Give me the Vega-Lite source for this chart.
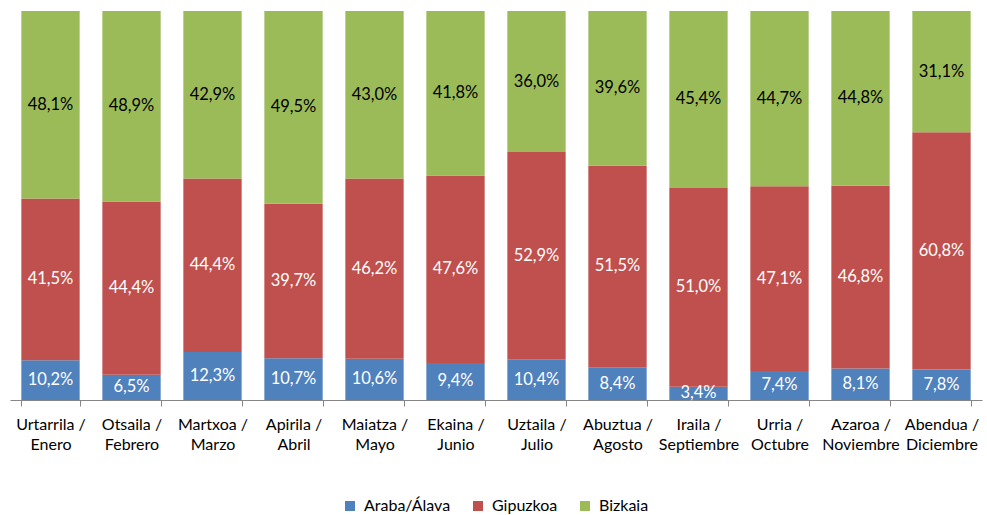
{
  "$schema": "https://vega.github.io/schema/vega-lite/v6.json",
  "width": 972,
  "height": 389,
  "autosize": {"type": "none"},
  "padding": {"left": 10, "top": 11, "right": 5, "bottom": 115},
  "background": "white",
  "config": {"view": {"stroke": null}},
  "data": {
    "values": [
      {"month": "Urtarrila / Enero", "series": "Araba/Álava", "k": 1, "pct": 10.2},
      {"month": "Urtarrila / Enero", "series": "Gipuzkoa", "k": 2, "pct": 41.5},
      {"month": "Urtarrila / Enero", "series": "Bizkaia", "k": 3, "pct": 48.1},
      {"month": "Otsaila / Febrero", "series": "Araba/Álava", "k": 1, "pct": 6.5},
      {"month": "Otsaila / Febrero", "series": "Gipuzkoa", "k": 2, "pct": 44.4},
      {"month": "Otsaila / Febrero", "series": "Bizkaia", "k": 3, "pct": 48.9},
      {"month": "Martxoa / Marzo", "series": "Araba/Álava", "k": 1, "pct": 12.3},
      {"month": "Martxoa / Marzo", "series": "Gipuzkoa", "k": 2, "pct": 44.4},
      {"month": "Martxoa / Marzo", "series": "Bizkaia", "k": 3, "pct": 42.9},
      {"month": "Apirila / Abril", "series": "Araba/Álava", "k": 1, "pct": 10.7},
      {"month": "Apirila / Abril", "series": "Gipuzkoa", "k": 2, "pct": 39.7},
      {"month": "Apirila / Abril", "series": "Bizkaia", "k": 3, "pct": 49.5},
      {"month": "Maiatza / Mayo", "series": "Araba/Álava", "k": 1, "pct": 10.6},
      {"month": "Maiatza / Mayo", "series": "Gipuzkoa", "k": 2, "pct": 46.2},
      {"month": "Maiatza / Mayo", "series": "Bizkaia", "k": 3, "pct": 43.0},
      {"month": "Ekaina / Junio", "series": "Araba/Álava", "k": 1, "pct": 9.4},
      {"month": "Ekaina / Junio", "series": "Gipuzkoa", "k": 2, "pct": 47.6},
      {"month": "Ekaina / Junio", "series": "Bizkaia", "k": 3, "pct": 41.8},
      {"month": "Uztaila / Julio", "series": "Araba/Álava", "k": 1, "pct": 10.4},
      {"month": "Uztaila / Julio", "series": "Gipuzkoa", "k": 2, "pct": 52.9},
      {"month": "Uztaila / Julio", "series": "Bizkaia", "k": 3, "pct": 36.0},
      {"month": "Abuztua / Agosto", "series": "Araba/Álava", "k": 1, "pct": 8.4},
      {"month": "Abuztua / Agosto", "series": "Gipuzkoa", "k": 2, "pct": 51.5},
      {"month": "Abuztua / Agosto", "series": "Bizkaia", "k": 3, "pct": 39.6},
      {"month": "Iraila / Septiembre", "series": "Araba/Álava", "k": 1, "pct": 3.4},
      {"month": "Iraila / Septiembre", "series": "Gipuzkoa", "k": 2, "pct": 51.0},
      {"month": "Iraila / Septiembre", "series": "Bizkaia", "k": 3, "pct": 45.4},
      {"month": "Urria / Octubre", "series": "Araba/Álava", "k": 1, "pct": 7.4},
      {"month": "Urria / Octubre", "series": "Gipuzkoa", "k": 2, "pct": 47.1},
      {"month": "Urria / Octubre", "series": "Bizkaia", "k": 3, "pct": 44.7},
      {"month": "Azaroa / Noviembre", "series": "Araba/Álava", "k": 1, "pct": 8.1},
      {"month": "Azaroa / Noviembre", "series": "Gipuzkoa", "k": 2, "pct": 46.8},
      {"month": "Azaroa / Noviembre", "series": "Bizkaia", "k": 3, "pct": 44.8},
      {"month": "Abendua / Diciembre", "series": "Araba/Álava", "k": 1, "pct": 7.8},
      {"month": "Abendua / Diciembre", "series": "Gipuzkoa", "k": 2, "pct": 60.8},
      {"month": "Abendua / Diciembre", "series": "Bizkaia", "k": 3, "pct": 31.1}
    ]
  },
  "encoding": {
    "x": {
      "field": "month",
      "type": "nominal",
      "sort": null,
      "scale": {"paddingInner": 0.28, "paddingOuter": 0.14},
      "axis": {
        "title": null,
        "labelAngle": 0,
        "labelExpr": "datum.value ? [split(datum.value, ' / ')[0] + ' /', split(datum.value, ' / ')[1]] : ''",
        "labelFont": "Lato",
        "labelFontSize": 16,
        "labelColor": "#000000",
        "labelLineHeight": 20,
        "labelPadding": 10,
        "labelBaseline": "top",
        "domainColor": "#868686",
        "tickColor": "#868686",
        "tickSize": 6,
        "tickBand": "extent",
        "grid": false
      }
    },
    "y": {"field": "pct", "type": "quantitative", "stack": "normalize", "axis": null, "scale": {"nice": false}},
    "order": {"field": "k", "type": "quantitative"}
  },
  "layer": [
    {
      "mark": {"type": "bar"},
      "encoding": {
        "color": {
          "field": "series",
          "type": "nominal",
          "sort": ["Araba/Álava", "Gipuzkoa", "Bizkaia"],
          "scale": {"domain": ["Araba/Álava", "Gipuzkoa", "Bizkaia"], "range": ["#4F81BD", "#C0504D", "#9BBB59"]},
          "legend": {
            "title": null,
            "orient": "none",
            "legendX": 332,
            "legendY": 487,
            "direction": "horizontal",
            "symbolType": "square",
            "symbolSize": 100,
            "symbolStrokeWidth": 0,
            "symbolOpacity": 1,
            "labelFont": "Lato",
            "labelFontSize": 16,
            "labelOffset": 6,
            "labelColor": "#000000",
            "columnPadding": 19
          }
        }
      }
    },
    {
      "mark": {
        "type": "text",
        "font": "Lato",
        "fontSize": 16.5,
        "text": {"expr": "replace(format(datum.pct, '.1f'), '.', ',') + '%'"}
      },
      "encoding": {
        "y": {"field": "pct", "type": "quantitative", "stack": "normalize", "bandPosition": 0.5},
        "detail": {"field": "series", "type": "nominal"},
        "color": {"condition": {"test": "datum.series === 'Bizkaia'", "value": "#000000"}, "value": "#ffffff"}
      }
    }
  ]
}
